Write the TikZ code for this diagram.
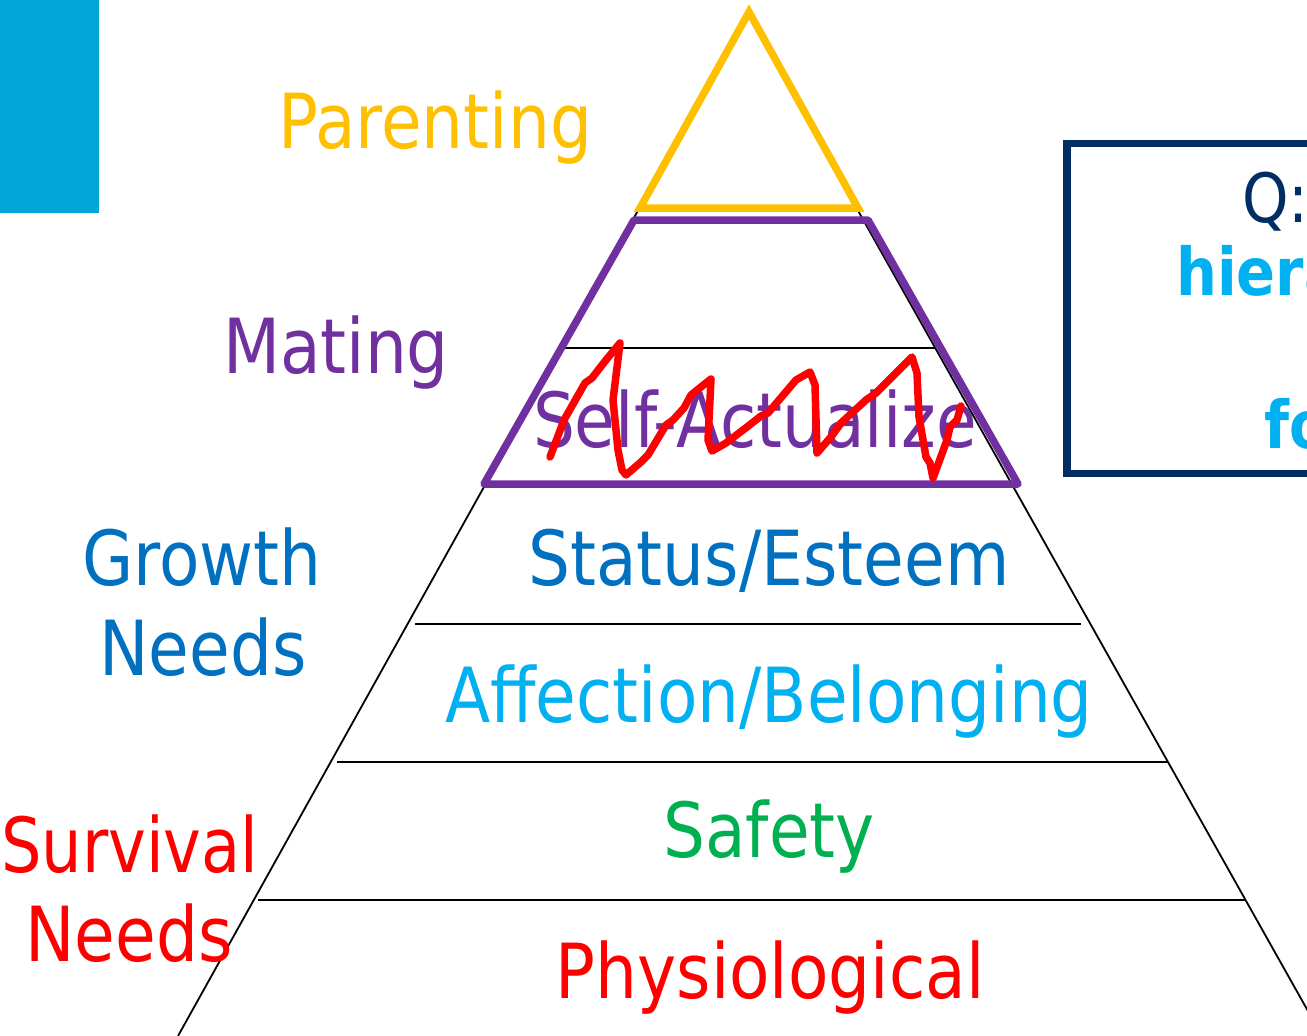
\documentclass[tikz,border=0pt]{standalone}
\usepackage{fontspec}
\setmainfont{DejaVu Sans}[FakeStretch=0.87]
\definecolor{cparent}{HTML}{FFC000}
\definecolor{cmate}{HTML}{7030A0}
\definecolor{cgrow}{HTML}{0070C0}
\definecolor{caff}{HTML}{00B0F0}
\definecolor{csafe}{HTML}{00B050}
\definecolor{cred}{HTML}{FF0000}
\definecolor{cblock}{HTML}{00A6D6}
\definecolor{cnavy}{HTML}{002D62}
\begin{document}
\begin{tikzpicture}[x=1pt,y=-1pt,
  lbl/.style={inner sep=0pt,anchor=base,font=\fontsize{76}{80}\selectfont},
  qlbl/.style={inner sep=0pt,anchor=base west,font=\fontsize{68}{72}\selectfont},
  pyr/.style={draw=black,line width=1.8pt},
  tier/.style={draw=black,line width=1.5pt},
  scribble/.style={draw=cred,line width=7.5pt,line join=round,line cap=round}]
\useasboundingbox (0,0) rectangle (1307,1036);
\clip (0,0) rectangle (1307,1036);
% corner block
\fill[cblock] (0,0) rectangle (99,213);
% black pyramid
\coordinate (apex) at (747.5,14);
\coordinate (bl) at (178,1036);
\coordinate (br) at (1322,1036);
\draw[pyr] (bl) -- (apex) -- (br);
\draw[tier] (565,348) -- (935,348);
\draw[tier] (415,624) -- (1081,624);
\draw[tier] (337,762) -- (1168,762);
\draw[tier] (258,900) -- (1246,900);
% labels
\node[lbl,text=cparent] (parent) at (435,148) {Parenting};
\node[lbl,text=cmate] (mating) at (336,373) {Mating};
\node[lbl,text=cmate] (self) at (755,447) {Self-Actualize};
\node[lbl,text=cgrow] (status) at (769,585) {Status/Esteem};
\node[lbl,text=cgrow] (growth) at (202,585) {Growth};
\node[lbl,text=cgrow] (gneeds) at (203,675) {Needs};
\node[lbl,text=caff] (affect) at (769,722) {Affection/Belonging};
\node[lbl,text=csafe] (safety) at (769,857) {Safety};
\node[lbl,text=cred,anchor=base west] (surv) at (1,872) {\scalebox{0.965}[1]{Survival}};
\node[lbl,text=cred] (sneeds) at (129,961) {Needs};
\node[lbl,text=cred] (phys) at (770,998) {Physiological};
% mating trapezoid
\draw[draw=cmate,line width=7.5pt,line join=round] (484,484) -- (634,220) -- (868,220) -- (1018,484) -- cycle;
% parenting triangle
\draw[draw=cparent,line width=7.5pt,line join=miter] (749,12) -- (640,208) -- (858,208) -- cycle;
% red scribble
\draw[scribble] (550,457) -- (564,420) -- (585,383) -- (592,378) -- (606,360) -- (620,343)
 -- (613,400) -- (618,450) -- (622,470) -- (626,475) -- (641,462) -- (648,455)
 -- (666,425) -- (673,420) -- (684,408) -- (691,395) -- (711,379) -- (708,440)
 -- (712,451) -- (726,443) -- (747,427) -- (761,416) -- (768,413) -- (796,380)
 -- (810,372) -- (815,385) -- (817,453) -- (831,437) -- (841,423) -- (866,400)
 -- (876,393) -- (912,357) -- (917,373) -- (919,417) -- (926,457) -- (930,463)
 -- (933,478) -- (936,470) -- (947,440) -- (950,427) -- (957,420) -- (961,406);
% question box
\draw[draw=cnavy,line width=7.5pt] (1067,143.5) rectangle (1340,473.5);
\node[qlbl,text=cnavy] (q) at (1242,222) {Q:};
\node[qlbl,text=caff,font=\fontsize{66}{70}\selectfont\bfseries] (hier) at (1176,295) {hiera};
\node[qlbl,text=caff,font=\fontsize{66}{70}\selectfont\bfseries] (fo) at (1264,448) {fo};
\end{tikzpicture}
\end{document}
